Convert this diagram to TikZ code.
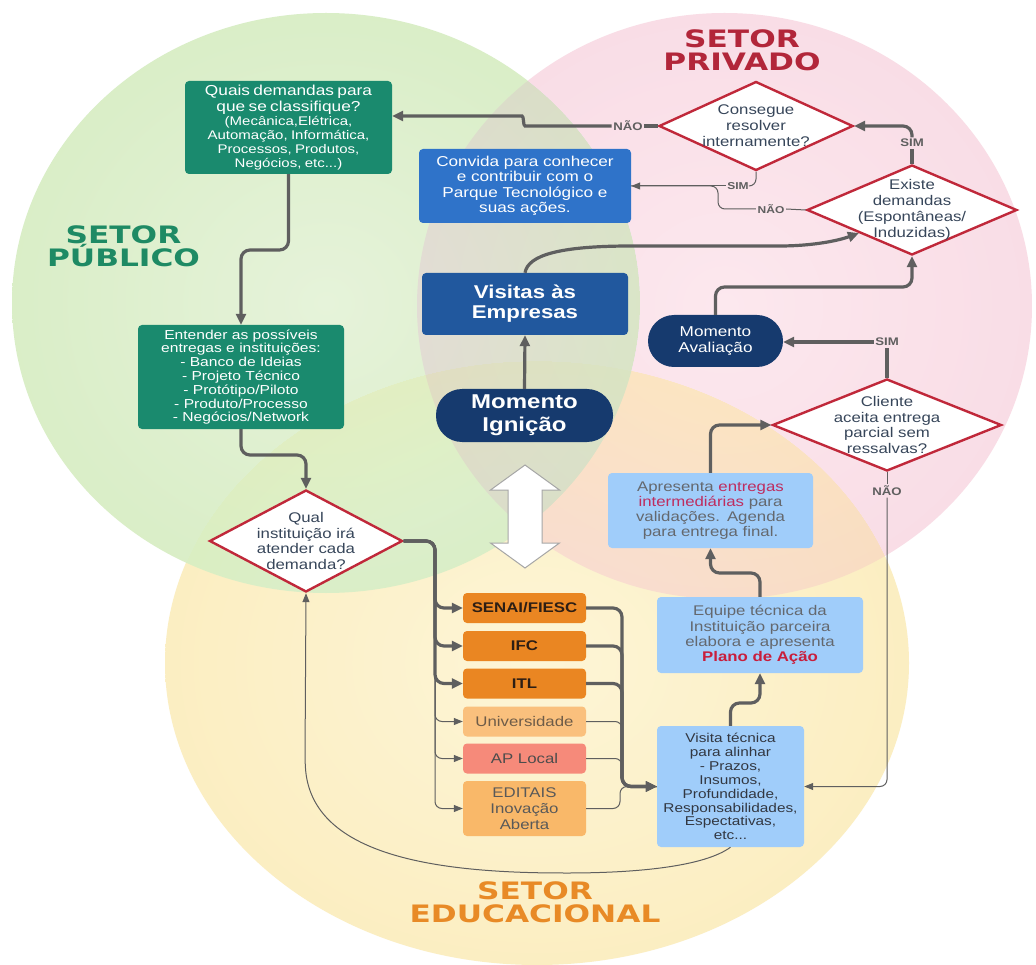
\documentclass[tikz,border=0pt]{standalone}
\usepackage{fontspec}
\setmainfont{Liberation Sans}[FakeStretch=1.2]
\newfontfamily\titlefont{DejaVu Sans}[FakeStretch=1.3]
\usetikzlibrary{arrows.meta,shapes.geometric,calc}

\definecolor{cteal}{RGB}{26,138,110}
\definecolor{cblue}{RGB}{47,115,201}
\definecolor{cvis}{RGB}{33,88,158}
\definecolor{cnavy}{RGB}{22,58,110}
\definecolor{clight}{RGB}{160,205,250}
\definecolor{corange}{RGB}{234,134,34}
\definecolor{cuni}{RGB}{250,192,125}
\definecolor{capl}{RGB}{246,138,122}
\definecolor{cedit}{RGB}{249,184,105}
\definecolor{cred}{RGB}{192,40,58}
\definecolor{cline}{RGB}{95,95,95}
\definecolor{cdtext}{RGB}{55,70,90}
\definecolor{cgtext}{RGB}{100,104,110}
\definecolor{cvtext}{RGB}{50,55,65}
\definecolor{cpinkt}{RGB}{190,45,95}
\definecolor{cplano}{RGB}{200,30,60}
\definecolor{cbrown}{RGB}{45,30,20}
\definecolor{cunitext}{RGB}{110,92,72}
\definecolor{tgreen}{RGB}{30,138,100}
\definecolor{tred}{RGB}{178,38,58}
\definecolor{torange}{RGB}{232,138,38}
\definecolor{gin}{RGB}{230,243,218}
\definecolor{gmid}{RGB}{214,236,194}
\definecolor{gout}{RGB}{190,225,160}
\definecolor{pin}{RGB}{252,232,238}
\definecolor{pmid}{RGB}{248,218,228}
\definecolor{pout}{RGB}{241,196,210}
\definecolor{yin}{RGB}{253,245,214}
\definecolor{ymid}{RGB}{251,236,188}
\definecolor{yout}{RGB}{247,220,148}

\pgfdeclareradialshading{gshade}{\pgfpoint{0bp}{0bp}}{color(0bp)=(gin); color(32bp)=(gmid); color(50bp)=(gout)}
\pgfdeclareradialshading{pshade}{\pgfpoint{0bp}{0bp}}{color(0bp)=(pin); color(32bp)=(pmid); color(50bp)=(pout)}
\pgfdeclareradialshading{yshade}{\pgfpoint{0bp}{0bp}}{color(0bp)=(yin); color(32bp)=(ymid); color(50bp)=(yout)}

\tikzset{
  rbox/.style={rectangle, rounded corners=4pt, inner sep=0pt, align=center},
  pill/.style={rectangle, fill=cnavy, text=white, inner sep=0pt, align=center},
  dia/.style={diamond, draw=cred, line width=2.4pt, fill=white, inner sep=0pt},
  dtext/.style={text=cdtext, align=center},
  conn/.style={draw=cline, line width=3.2pt, rounded corners=9pt, -{Triangle[length=11pt,width=10pt]}},
  thinc/.style={draw=cline, line width=1pt, rounded corners=7pt},
  thinarr/.style={thinc, -{Triangle[length=9pt,width=7pt]}},
  lbl/.style={text=cline, font=\fontsize{11}{12}\selectfont\bfseries, inner sep=1.5pt},
  ttl/.style={font=\titlefont\bfseries\fontsize{24}{23}\selectfont, align=center},
}

\begin{document}
\begin{tikzpicture}[x=1pt,y=-1pt]
\useasboundingbox (0,0) rectangle (1036,965);
\fill[white] (0,0) rectangle (1036,965);

% sector circles
\shade[shading=yshade] (537,663) ellipse [x radius=372pt, y radius=302pt];
\shade[shading=gshade, blend mode=darken] (326,303) ellipse [x radius=314pt, y radius=290pt];
\shade[shading=pshade, blend mode=darken] (724.5,306) ellipse [x radius=307.5pt, y radius=293pt];

% titles
\node[ttl, text=tgreen] (tpub) at (123.5,246) {SETOR\\PÚBLICO};
\node[ttl, text=tred] (tpriv) at (742,50) {SETOR\\PRIVADO};
\node[ttl, text=torange] (tedu) at (535,902) {SETOR\\EDUCACIONAL};

% public sector boxes
\node[rbox, fill=cteal, text=white, minimum width=207pt, text width=205pt, minimum height=93pt] (q1) at (288.5,127.5)
  {{\fontsize{14.4}{15.5}\selectfont Quais demandas para\\que se classifique?\par}{\fontsize{12.5}{14}\selectfont (Mecânica,Elétrica,\\Automação, Informática,\\Processos, Produtos,\\Negócios, etc...)\par}};
\node[rbox, fill=cteal, text=white, minimum width=206pt, text width=204pt, minimum height=104pt, font=\fontsize{13}{13.8}\selectfont] (ent) at (241,377)
  {Entender as possíveis\\entregas e instituições:\\- Banco de Ideias\\- Projeto Técnico\\- Protótipo/Piloto\\- Produto/Processo\\- Negócios/Network};
\node[dia, minimum width=193pt, minimum height=102pt,
  label={[dtext, font=\fontsize{14}{15.8}\selectfont]center:{Qual\\instituição irá\\atender cada\\demanda?}}] (qual) at (306,541) {};

% middle
\node[rbox, fill=cblue, text=white, minimum width=212pt, text width=210pt, minimum height=74pt, font=\fontsize{14.3}{15.5}\selectfont] (conv) at (525,186)
  {Convida para conhecer\\e contribuir com o\\Parque Tecnológico e\\suas ações.};
\node[rbox, fill=cvis, text=white, minimum width=206pt, text width=204pt, minimum height=62pt, font=\fontsize{18.5}{20}\selectfont\bfseries] (visitas) at (525,304)
  {Visitas às\\Empresas};
\node[pill, rounded corners=26pt, minimum width=177pt, text width=175pt, minimum height=53pt, font=\fontsize{20}{23}\selectfont\bfseries] (ign) at (524.5,415.5)
  {Momento\\Ignição};
\draw[draw=black!35, fill=white, line width=1pt]
  (525,465) -- (559.5,490) -- (542,490) -- (542,543) -- (559.5,543) -- (525,568)
  -- (490.5,543) -- (508,543) -- (508,490) -- (490.5,490) -- cycle;

% private sector
\node[dia, minimum width=194pt, minimum height=89pt,
  label={[dtext, font=\fontsize{14}{16}\selectfont]center:{Consegue\\resolver\\internamente?}}] (cons) at (756,126) {};
\node[dia, minimum width=210pt, minimum height=90pt,
  label={[dtext, font=\fontsize{14}{16}\selectfont]center:{Existe\\demandas\\(Espontâneas/\\Induzidas)}}] (exi) at (912,210) {};
\node[pill, rounded corners=26pt, minimum width=135pt, text width=133pt, minimum height=52pt, font=\fontsize{14.3}{15.7}\selectfont] (aval) at (715.5,341)
  {Momento\\Avaliação};
\node[dia, minimum width=229pt, minimum height=92pt,
  label={[dtext, font=\fontsize{14}{15.5}\selectfont]center:{Cliente\\aceita entrega\\parcial sem\\ressalvas?}}] (cli) at (887,425) {};
\node[rbox, fill=clight, text=cgtext, minimum width=205pt, text width=200pt, minimum height=75pt, font=\fontsize{14}{15}\selectfont] (apres) at (710.5,510.5)
  {Apresenta \textcolor{cpinkt}{entregas}\\\textcolor{cpinkt}{intermediárias} para\\validações. Agenda\\para entrega final.};

% educational sector
\node[rbox, fill=clight, text=cgtext, minimum width=206pt, text width=200pt, minimum height=76pt, font=\fontsize{14}{15.3}\selectfont] (equipe) at (760,635)
  {Equipe técnica da\\Instituição parceira\\elabora e apresenta\\{\bfseries\color{cplano}Plano de Ação}};
\node[rbox, fill=clight, text=cvtext, minimum width=147pt, text width=145pt, minimum height=121pt, font=\fontsize{12.8}{13.9}\selectfont] (visita) at (730.5,786.5)
  {Visita técnica\\para alinhar\\- Prazos,\\Insumos,\\Profundidade,\\Responsabilidades,\\Espectativas,\\etc...};
\node[rbox, fill=corange, text=cbrown, minimum width=123pt, text width=121pt, minimum height=30pt, font=\fontsize{14}{16}\selectfont\bfseries] (senai) at (524.5,608) {SENAI/FIESC};
\node[rbox, fill=corange, text=cbrown, minimum width=123pt, text width=121pt, minimum height=30pt, font=\fontsize{14}{16}\selectfont\bfseries] (ifc) at (524.5,646) {IFC};
\node[rbox, fill=corange, text=cbrown, minimum width=123pt, text width=121pt, minimum height=30pt, font=\fontsize{14}{16}\selectfont\bfseries] (itl) at (524.5,683.5) {ITL};
\node[rbox, fill=cuni, text=cunitext, minimum width=123pt, text width=121pt, minimum height=30pt, font=\fontsize{14}{16}\selectfont] (univ) at (524.5,721.5) {Universidade};
\node[rbox, fill=capl, text=black!70, minimum width=123pt, text width=121pt, minimum height=30pt, font=\fontsize{14}{16}\selectfont] (apl) at (524.5,758.5) {AP Local};
\node[rbox, fill=cedit, text=black!65, minimum width=123pt, text width=121pt, minimum height=55pt, font=\fontsize{14}{16}\selectfont] (edit) at (524.5,808.5) {EDITAIS\\Inovação\\Aberta};

% connector labels
\node[lbl] (naoA) at (628,126) {NÃO};
\node[lbl] (simA) at (912,143) {SIM};
\node[lbl, font=\fontsize{10}{11}\selectfont\bfseries] (simC) at (738,186) {SIM};
\node[lbl, font=\fontsize{10}{11}\selectfont\bfseries] (naoC) at (771,209) {NÃO};
\node[lbl] (simB) at (887,342) {SIM};
\node[lbl] (naoB) at (887,491) {NÃO};

% connectors: private sector
\draw[conn, -] (cons.west) -- (naoA.east);
\draw[conn] (naoA.west) -- (534,126) .. controls (523,126) and (524,116) .. (513,116) -- ($(q1.east)+(0,-11.5)$);
\draw[conn, -] (exi.north) -- (simA.south);
\draw[conn] (simA.north) |- (cons.east);
\draw[thinc] (cons.south) |- (simC.east);
\draw[thinarr] (simC.west) -- (conv.east);
\draw[thinc] (exi.west) -- (naoC.east);
\draw[thinc] (naoC.west) -- (718,209) -- (718,186) -- (conv.east);
\draw[conn] (visitas.north) .. controls (528,255) and (560,246) .. (640,246) -- (770,246) .. controls (815,246) and (840,240) .. (exi.south west);
\draw[conn] (ign.north) -- (visitas.south);
\draw[conn] (aval.north) -- (715.5,287) -- (912,287) -- (exi.south);
\draw[conn, -] (cli.north) -- (simB.south);
\draw[conn] (simB.west) -- (aval.east |- simB.west);
\draw[thinc] (cli.south) -- (naoB.north);
\draw[thinarr] (naoB.south) -- (887,786.5) -- (visita.east);
\draw[conn] (apres.north) |- (cli.west);

% connectors: public sector
\draw[conn] (q1.south) -- (288.5,250) -- (241,250) -- (ent.north);
\draw[conn] (ent.south) -- (241,455) -- (306,455) -- (qual.north);
\draw[thinarr] (qual.east) -- (435,541) -- (435,721.5) -- (univ.west);
\draw[thinarr] (qual.east) -- (435,541) -- (435,758.5) -- (apl.west);
\draw[thinarr] (qual.east) -- (435,541) -- (435,808.5) -- (edit.west);
\draw[conn] (qual.east) -- (435,541) -- (435,608) -- (senai.west);
\draw[conn] (qual.east) -- (435,541) -- (435,646) -- (ifc.west);
\draw[conn] (qual.east) -- (435,541) -- (435,683.5) -- (itl.west);

% connectors: educational sector
\draw[thinc] (univ.east) -- (622,721.5) -- (622,786.5) -- (visita.west);
\draw[thinc] (apl.east) -- (622,758.5) -- (622,786.5) -- (visita.west);
\draw[thinc] (edit.east) -- (620,808.5) -- (620,786.5) -- (visita.west);
\draw[conn] (senai.east) -- (622,608) -- (622,786.5) -- (visita.west);
\draw[conn] (ifc.east) -- (622,646) -- (622,786.5) -- (visita.west);
\draw[conn] (itl.east) -- (622,683.5) -- (622,786.5) -- (visita.west);
\draw[conn] (visita.north) -- (730.5,703) -- (760,703) -- (equipe.south);
\draw[conn] (equipe.north) -- (760,573) -- (710.5,573) -- (apres.south);
\draw[thinarr] (visita.south) .. controls (705,866) and (640,873) .. (560,873) .. controls (420,872) and (310,850) .. (305,760) -- (qual.south);
\end{tikzpicture}
\end{document}
